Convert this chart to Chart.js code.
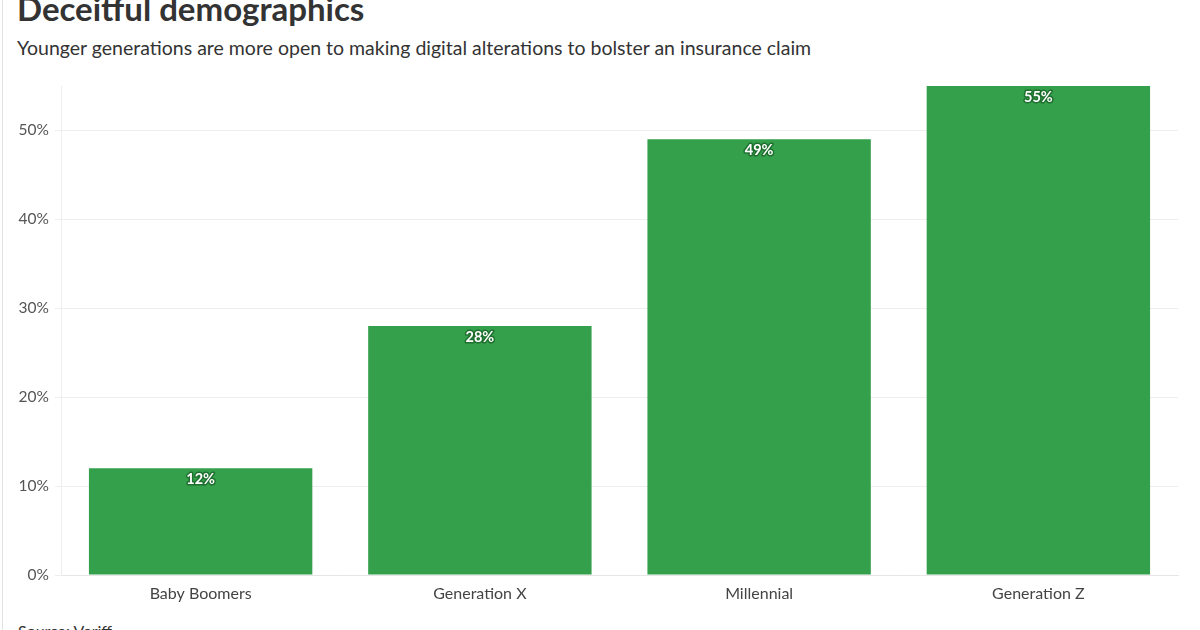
<!DOCTYPE html>
<html>
<head>
<meta charset="utf-8">
<script src="https://cdn.jsdelivr.net/npm/chart.js@4/dist/chart.umd.min.js"></script>
<style>
  html, body { margin: 0; padding: 0; background: #fff; }
  body { width: 1200px; height: 630px; position: relative; overflow: hidden; font-family: Lato, "Open Sans", sans-serif; }
  #border { position: absolute; left: 2px; top: 0; width: 1px; height: 630px; background: #e2e2e2; }
  #title { position: absolute; left: 17px; top: -12px; font-size: 33px; font-weight: 700; color: #333; white-space: nowrap; }
  #subtitle { position: absolute; left: 17px; top: 36px; font-size: 19.5px; color: #333; white-space: nowrap; }
  #source { position: absolute; left: 18px; top: 621px; font-size: 16px; color: #333; white-space: nowrap; }
  #wrap { position: absolute; left: 0; top: 0; width: 1200px; height: 630px; }
</style>
</head>
<body>
<div id="border"></div>
<div id="title">Deceitful demographics</div>
<div id="subtitle">Younger generations are more open to making digital alterations to bolster an insurance claim</div>
<div id="source">Source: Veriff</div>
<div id="wrap"><canvas id="c" width="1200" height="630"></canvas></div>
<script>
const categories = ["Baby Boomers", "Generation X", "Millennial", "Generation Z"];
const values = [12, 28, 49, 55];
const yTicks = [0, 10, 20, 30, 40, 50];

const barLabels = {
  id: 'barLabels',
  afterDatasetsDraw(chart) {
    const ctx = chart.ctx;
    const meta = chart.getDatasetMeta(0);
    ctx.save();
    ctx.font = 'bold 14.5px Lato, sans-serif';
    ctx.textAlign = 'center';
    ctx.textBaseline = 'middle';
    meta.data.forEach((bar, i) => {
      const txt = values[i] + '%';
      const y = bar.y + 11;
      ctx.lineJoin = 'round';
      ctx.lineWidth = 3;
      ctx.strokeStyle = 'rgba(25,100,40,0.8)';
      ctx.strokeText(txt, bar.x, y);
      ctx.fillStyle = '#ffffff';
      ctx.fillText(txt, bar.x, y);
    });
    ctx.restore();
  }
};

new Chart(document.getElementById('c'), {
  type: 'bar',
  data: {
    labels: categories,
    datasets: [{
      data: values,
      backgroundColor: '#35a04b',
      borderWidth: 0,
      categoryPercentage: 1.0,
      barPercentage: 0.8
    }]
  },
  options: {
    responsive: false,
    animation: false,
    devicePixelRatio: 1,
    layout: { padding: { top: 86, right: 22, bottom: 0, left: 0 } },
    plugins: { legend: { display: false }, tooltip: { enabled: false } },
    scales: {
      x: {
        grid: { display: false, drawTicks: false },
        border: { display: true, color: '#e6e6e6' },
        ticks: { color: '#444', font: { family: 'Lato', size: 16 }, padding: 9 },
        afterFit(scale) { scale.height = 55; }
      },
      y: {
        min: 0, max: 55,
        afterBuildTicks(scale) { scale.ticks = yTicks.map(v => ({ value: v })); },
        grid: { color: '#eeeeee', tickLength: 6, drawTicks: true },
        border: { display: true, color: '#eeeeee' },
        ticks: {
          color: '#555', font: { family: 'Lato', size: 15.5 }, padding: 6,
          callback: v => v + '%'
        },
        afterFit(scale) { scale.width = 61; }
      }
    }
  },
  plugins: [barLabels]
});
</script>
</body>
</html>
